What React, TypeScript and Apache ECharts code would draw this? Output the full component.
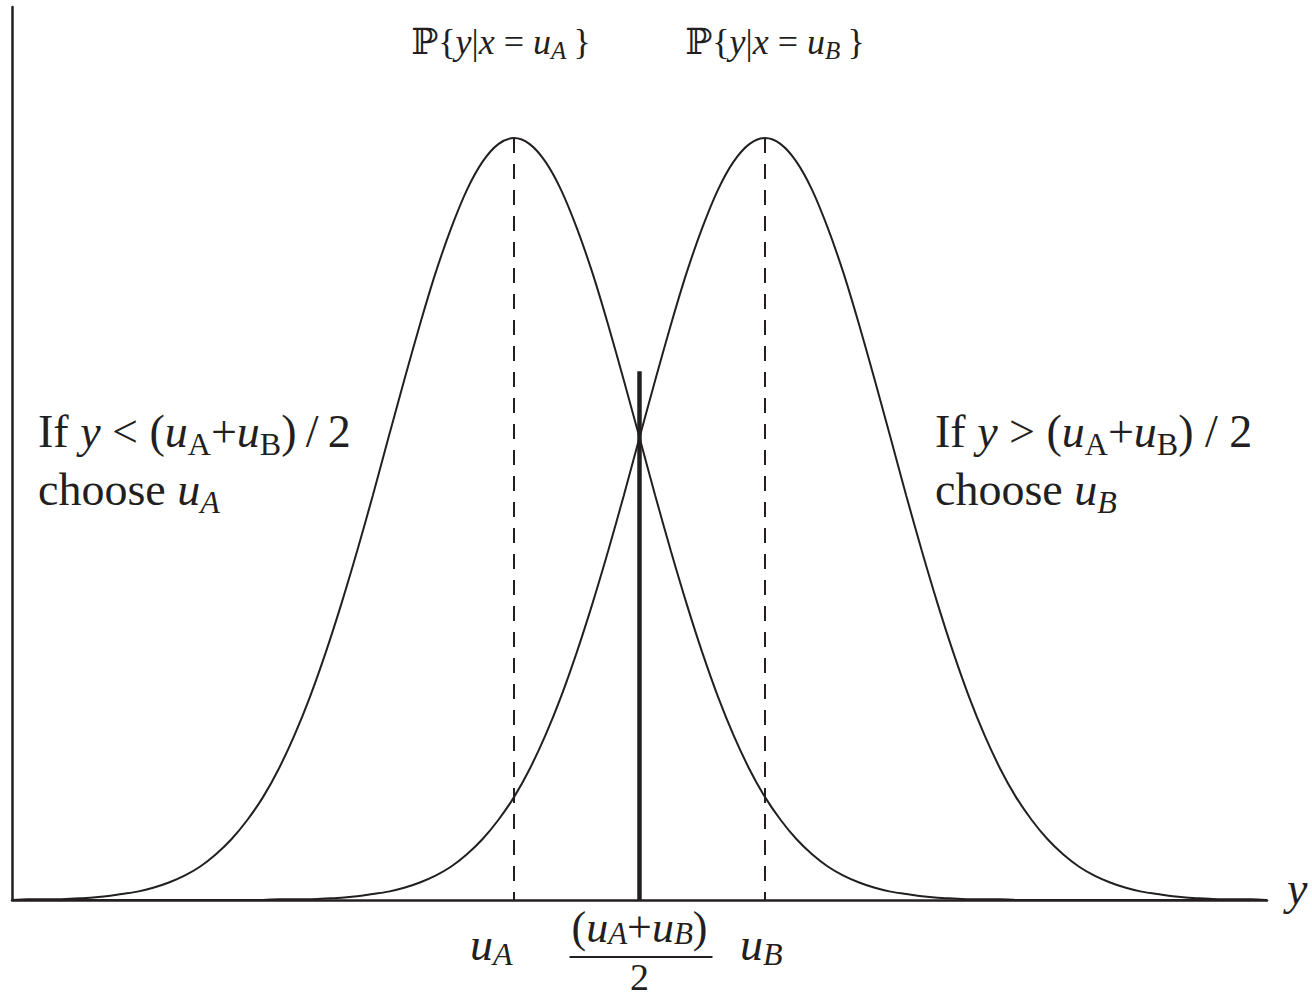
import React, { useEffect, useRef } from "react";
import * as echarts from "echarts";

// Sample positions along the observation axis (in units of the noise spread), step 0.125
const xs = [
  -5, -4.875, -4.75, -4.625, -4.5, -4.375, -4.25, -4.125, -4, -3.875, -3.75, -3.625, -3.5, -3.375, -3.25, -3.125,
  -3, -2.875, -2.75, -2.625, -2.5, -2.375, -2.25, -2.125, -2, -1.875, -1.75, -1.625, -1.5, -1.375, -1.25, -1.125,
  -1, -0.875, -0.75, -0.625, -0.5, -0.375, -0.25, -0.125, 0, 0.125, 0.25, 0.375, 0.5, 0.625, 0.75, 0.875,
  1, 1.125, 1.25, 1.375, 1.5, 1.625, 1.75, 1.875, 2, 2.125, 2.25, 2.375, 2.5, 2.625, 2.75, 2.875,
  3, 3.125, 3.25, 3.375, 3.5, 3.625, 3.75, 3.875, 4, 4.125, 4.25, 4.375, 4.5, 4.625, 4.75, 4.875, 5,
];

// Conditional density of y given x = u_A (relative height)
const densityA = [
  0.0, 0.001, 0.001, 0.001, 0.002, 0.003, 0.005, 0.008, 0.011, 0.016, 0.023, 0.032, 0.044, 0.06, 0.08, 0.105,
  0.135, 0.172, 0.216, 0.267, 0.325, 0.389, 0.458, 0.531, 0.607, 0.682, 0.755, 0.823, 0.882, 0.932, 0.969, 0.992,
  1.0, 0.992, 0.969, 0.932, 0.882, 0.823, 0.755, 0.682, 0.607, 0.531, 0.458, 0.389, 0.325, 0.267, 0.216, 0.172,
  0.135, 0.105, 0.08, 0.06, 0.044, 0.032, 0.023, 0.016, 0.011, 0.008, 0.005, 0.003, 0.002, 0.001, 0.001, 0.001,
  0.0, 0.0, 0.0, 0.0, 0.0, 0.0, 0.0, 0.0, 0.0, 0.0, 0.0, 0.0, 0.0, 0.0, 0.0, 0.0, 0.0,
];

// Conditional density of y given x = u_B (relative height)
const densityB = [
  0.0, 0.0, 0.0, 0.0, 0.0, 0.0, 0.0, 0.0, 0.0, 0.0, 0.0, 0.0, 0.0, 0.0, 0.0, 0.0,
  0.0, 0.001, 0.001, 0.001, 0.002, 0.003, 0.005, 0.008, 0.011, 0.016, 0.023, 0.032, 0.044, 0.06, 0.08, 0.105,
  0.135, 0.172, 0.216, 0.267, 0.325, 0.389, 0.458, 0.531, 0.607, 0.682, 0.755, 0.823, 0.882, 0.932, 0.969, 0.992,
  1.0, 0.992, 0.969, 0.932, 0.882, 0.823, 0.755, 0.682, 0.607, 0.531, 0.458, 0.389, 0.325, 0.267, 0.216, 0.172,
  0.135, 0.105, 0.08, 0.06, 0.044, 0.032, 0.023, 0.016, 0.011, 0.008, 0.005, 0.003, 0.002, 0.001, 0.001, 0.001, 0.0,
];

const uA = -1;
const uB = 1;
const threshold = 0; // (u_A + u_B) / 2
const thresholdTop = 0.694;
const xRange = [-5, 5];
const yMax = 1.172;

const FONT = '"Liberation Serif", "Times New Roman", "DejaVu Serif", serif';
const INK = "#231f20";

// Rich-text styles: upright, italic and lowered subscripts
function richStyles(size: number, lineH: number, drop: number) {
  const sub = Math.round(size * 0.7);
  const subLine = lineH - 2 * drop;
  return {
    m: { font: `${size}px ${FONT}`, lineHeight: lineH, fill: INK },
    i: { font: `italic ${size}px ${FONT}`, lineHeight: lineH, fill: INK },
    si: { font: `italic ${sub}px ${FONT}`, lineHeight: subLine, verticalAlign: "bottom", fill: INK },
    sr: { font: `${sub}px ${FONT}`, lineHeight: subLine, verticalAlign: "bottom", fill: INK },
  };
}

function textEl(
  text: string,
  x: number,
  y: number,
  size: number,
  lineH: number,
  drop: number,
  align: string,
  vAlign: string
) {
  return {
    type: "text",
    x,
    y,
    silent: true,
    style: {
      text,
      font: `${size}px ${FONT}`,
      fill: INK,
      lineHeight: lineH,
      textAlign: align,
      textVerticalAlign: vAlign,
      rich: richStyles(size, lineH, drop),
    },
  };
}

export default function App() {
  const ref = useRef<HTMLDivElement>(null);

  useEffect(() => {
    const el = ref.current;
    if (!el) return;
    const chart = echarts.init(el, null, { renderer: "svg" });

    const curve = (ys: number[]) => xs.map((x, i) => [x, ys[i]]);
    const peakA = Math.max(...densityA);
    const peakB = Math.max(...densityB);

    const axisLine = { show: true, onZero: false, lineStyle: { color: INK, width: 2.5 } };

    chart.setOption({
      animation: false,
      backgroundColor: "#ffffff",
      grid: { left: 12, right: 45, top: 7, bottom: 99 },
      xAxis: {
        type: "value",
        min: xRange[0],
        max: xRange[1],
        axisLine,
        axisTick: { show: false },
        axisLabel: { show: false },
        splitLine: { show: false },
      },
      yAxis: {
        type: "value",
        min: 0,
        max: yMax,
        axisLine,
        axisTick: { show: false },
        axisLabel: { show: false },
        splitLine: { show: false },
      },
      series: [
        {
          name: "P{y|x=uA}",
          type: "line",
          data: curve(densityA),
          smooth: 0.3,
          showSymbol: false,
          silent: true,
          lineStyle: { color: INK, width: 2 },
        },
        {
          name: "P{y|x=uB}",
          type: "line",
          data: curve(densityB),
          smooth: 0.3,
          showSymbol: false,
          silent: true,
          lineStyle: { color: INK, width: 2 },
        },
        {
          name: "uA",
          type: "line",
          data: [[uA, peakA], [uA, 0]],
          showSymbol: false,
          silent: true,
          lineStyle: { color: INK, width: 2, type: [15, 11] },
        },
        {
          name: "uB",
          type: "line",
          data: [[uB, peakB], [uB, 0]],
          showSymbol: false,
          silent: true,
          lineStyle: { color: INK, width: 2, type: [15, 11] },
        },
        {
          name: "threshold",
          type: "line",
          data: [[threshold, 0], [threshold, thresholdTop]],
          showSymbol: false,
          silent: true,
          lineStyle: { color: INK, width: 4.5 },
        },
      ],
    });

    const px = (x: number, y: number) =>
      chart.convertToPixel({ gridIndex: 0 }, [x, y]) as number[];
    const pA = px(uA, peakA);
    const pB = px(uB, peakB);
    const pMid = px(threshold, 0);
    const pEnd = px(xRange[1], 0);

    chart.setOption({
      graphic: [
        textEl("{m|ℙ{}{i|y}{m||}{i|x}{m| = }{i|u}{si|A}{m|\u2009}}", pA[0] - 13, 42, 36, 42, 12, "center", "middle"),
        textEl("{m|ℙ{}{i|y}{m||}{i|x}{m| = }{i|u}{si|B}{m|\u2009}}", pB[0] + 10, 42, 36, 42, 12, "center", "middle"),
        textEl(
          "{m|If }{i|y}{m| < (}{i|u}{sr|A}{m|+}{i|u}{sr|B}{m|)\u2009/\u20092}\n{m|choose }{i|u}{si|A}",
          38, 402, 46, 58, 15, "left", "top"
        ),
        textEl(
          "{m|If }{i|y}{m| > (}{i|u}{sr|A}{m|+}{i|u}{sr|B}{m|) / 2}\n{m|choose }{i|u}{si|B}",
          935, 402, 46, 58, 15, "left", "top"
        ),
        textEl("{i|u}{si|A}", pA[0] - 44, pMid[1] + 44, 46, 52, 15, "left", "middle"),
        textEl("{i|u}{si|B}", pB[0] - 25, pMid[1] + 44, 46, 52, 15, "left", "middle"),
        textEl("{m|(}{i|u}{si|A}{m|+}{i|u}{si|B}{m|)}", pMid[0], pMid[1] + 27, 44, 44, 13, "center", "middle"),
        {
          type: "line",
          silent: true,
          shape: { x1: pMid[0] - 70, y1: pMid[1] + 57, x2: pMid[0] + 73, y2: pMid[1] + 57 },
          style: { stroke: INK, lineWidth: 2 },
        },
        textEl("{m|2}", pMid[0], pMid[1] + 77, 38, 36, 12, "center", "middle"),
        textEl("{i|y}", pEnd[0] + 20, pEnd[1] - 12, 46, 52, 15, "left", "middle"),
      ],
    });

    return () => chart.dispose();
  }, []);

  return (
    <div
      ref={ref}
      style={{ position: "absolute", left: 0, top: 0, width: 1312, height: 999 }}
    />
  );
}
